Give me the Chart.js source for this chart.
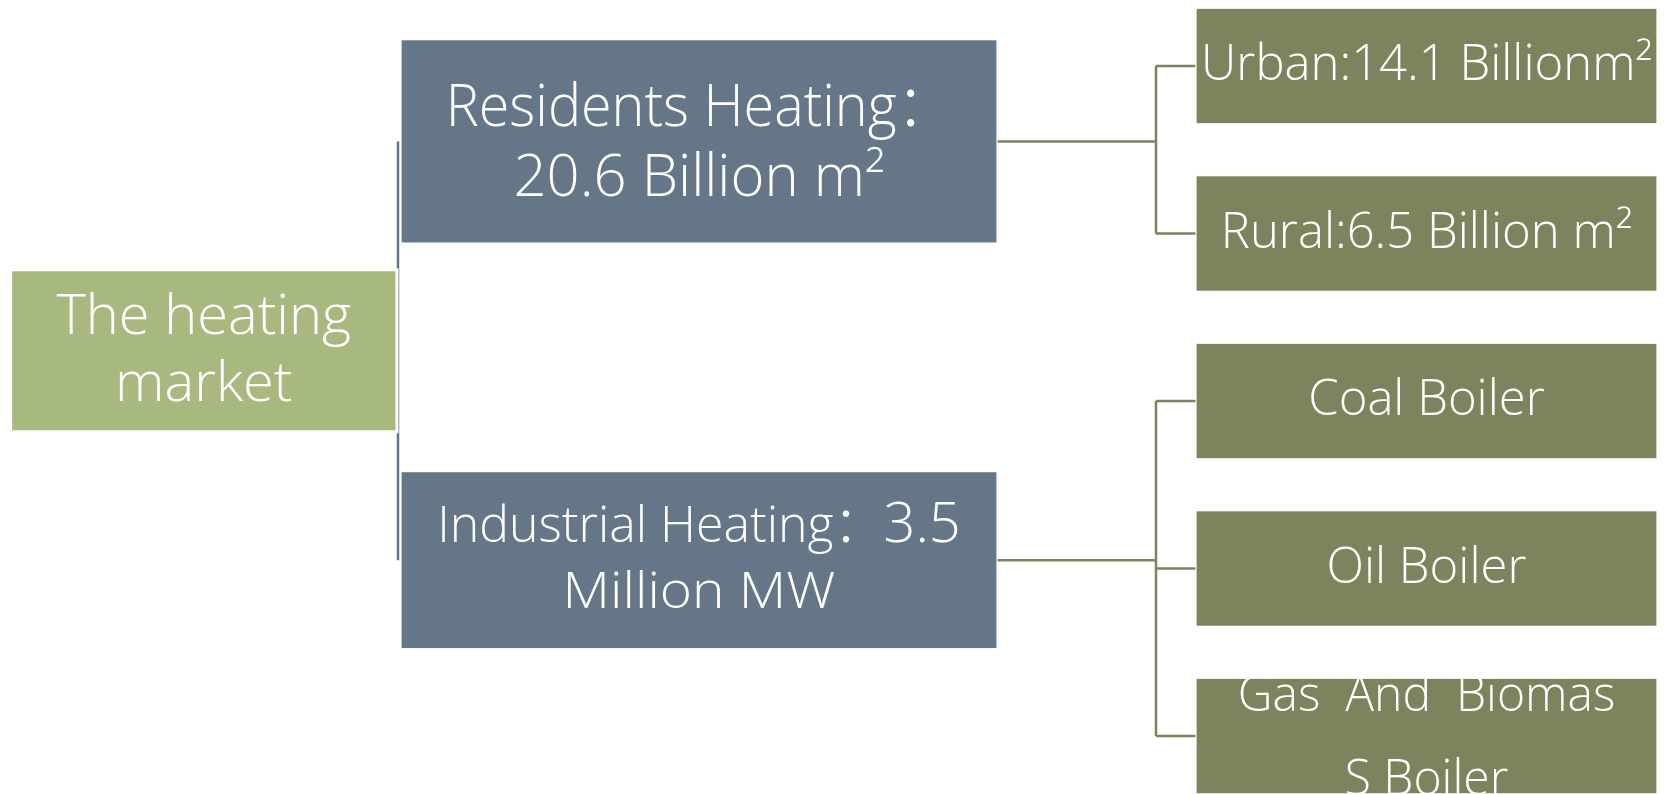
<!DOCTYPE html>
<html>
<head>
<meta charset="utf-8">
<script src="https://cdn.jsdelivr.net/npm/chart.js@4.4.1/dist/chart.umd.min.js"></script>
<style>
  html, body { margin: 0; padding: 0; background: #fff; overflow: hidden; }
  canvas { display: block; }
</style>
</head>
<body>
<canvas id="chart" width="1669" height="794"></canvas>
<script>
// tree data
const nodeNames = ['The heating market', 'Residents Heating', 'Industrial Heating', 'Urban', 'Rural', 'Coal Boiler', 'Oil Boiler', 'Gas And Biomass Boiler'];
const nodeParents = [-1, 0, 0, 1, 1, 2, 2, 2];
const nodeValues = [null, 20.6, 3.5, 14.1, 6.5, null, null, null];

// label text, wrapped as in the picture
const nodeLines = [
    ['The heating', 'market'],
    ['Residents Heating：', nodeValues[1] + ' Billion m²'],
    [['Industrial Heating：', String(nodeValues[2])], 'Million MW'],
    ['Urban:' + nodeValues[3] + ' Billionm²'],
    ['Rural:' + nodeValues[4] + ' Billion m²'],
    ['Coal Boiler'],
    ['Oil Boiler'],
    ['Gas  And  Biomas', 'S Boiler']
];

// layout / style
const COLS = [[10.6, 397], [401, 997], [1196, 1657]];
const BOX_H = [0.967, 1.214, 1.057, 0.69, 0.69, 0.69, 0.69, 0.69];
const MID_SHIFT = -0.05;
const ELBOW_X = 1156;
const FILLS = ['#a8b97f', '#667689', '#7b845c'];
const LINK_COLORS = ['#667689', '#7b845c'];
const FONT = "'Open Sans', 'Noto Sans CJK SC', sans-serif";
const TEXT_STYLE = [
    { size: 56, lh: 67, shift: 16.5, squash: [1, 1] },
    { size: 58, lh: 70, shift: 20, squash: [0.96, 1] },
    { size: 50, big: 56, lh: 66, shift: 14.5, squash: [1, 1.1] },
    { size: 49, lh: 84, shift: 14, squash: [1] },
    { size: 49, lh: 84, shift: 14, squash: [1] },
    { size: 49, lh: 84, shift: 14, squash: [1] },
    { size: 49, lh: 84, shift: 14, squash: [1] },
    { size: 49, lh: 84, shift: 17, squash: [0.98, 0.98] }
];

const depth = nodeNames.map((_, i) => {
    let d = 0;
    while (nodeParents[i] >= 0) { i = nodeParents[i]; d++; }
    return d;
});
const kids = nodeNames.map((_, i) => nodeParents.map((p, j) => p === i ? j : -1).filter(j => j >= 0));
const rows = [];
let nextLeaf = 0;
function place(i) {
    if (!kids[i].length) { rows[i] = nextLeaf++; return; }
    kids[i].forEach(place);
    const m = kids[i].reduce((s, k) => s + rows[k], 0) / kids[i].length;
    rows[i] = depth[i] === 1 ? m + MID_SHIFT : m;
}
place(0);

function drawLine(ctx, line, cx, by, st, sq) {
    const segs = Array.isArray(line) ? line : [line];
    const fonts = segs.map((s, k) => '300 ' + (k ? st.big : st.size) + 'px ' + FONT);
    const widths = segs.map((s, k) => { ctx.font = fonts[k]; return ctx.measureText(s).width; });
    const total = widths.reduce((a, b) => a + b, 0) * sq;
    ctx.save();
    ctx.translate(cx - total / 2, by);
    ctx.scale(sq, 1);
    let x = 0;
    segs.forEach((s, k) => {
        ctx.font = fonts[k];
        ctx.fillText(s, x, 0);
        x += widths[k];
    });
    ctx.restore();
}

const treePlugin = {
    id: 'tree',
    afterDatasetsDraw(chart) {
        const ctx = chart.ctx;
        const xs = chart.scales.x, ys = chart.scales.y;
        const box = i => {
            const c = COLS[depth[i]];
            const y0 = ys.getPixelForValue(rows[i] - BOX_H[i] / 2);
            const y1 = ys.getPixelForValue(rows[i] + BOX_H[i] / 2);
            return { l: xs.getPixelForValue(c[0]), r: xs.getPixelForValue(c[1]), t: y0, b: y1, cy: ys.getPixelForValue(rows[i]) };
        };
        ctx.save();
        ctx.lineWidth = 2.5;
        // links
        nodeNames.forEach((_, i) => {
            if (!kids[i].length) return;
            const p = box(i);
            const first = box(kids[i][0]), last = box(kids[i][kids[i].length - 1]);
            ctx.strokeStyle = LINK_COLORS[depth[i]];
            ctx.beginPath();
            if (depth[i] === 0) {
                ctx.moveTo(p.r + 1, first.cy);
                ctx.lineTo(p.r + 1, last.cy);
            } else {
                const ex = xs.getPixelForValue(ELBOW_X);
                ctx.moveTo(p.r, p.cy);
                ctx.lineTo(ex, p.cy);
                ctx.moveTo(ex, first.cy);
                ctx.lineTo(ex, last.cy);
                kids[i].forEach(k => {
                    const b = box(k);
                    ctx.moveTo(ex, b.cy);
                    ctx.lineTo(b.l, b.cy);
                });
            }
            ctx.stroke();
        });
        // boxes
        nodeNames.forEach((_, i) => {
            const b = box(i);
            ctx.fillStyle = FILLS[depth[i]];
            ctx.fillRect(b.l, b.t, b.r - b.l, b.b - b.t);
            ctx.strokeStyle = '#ffffff';
            ctx.lineWidth = depth[i] === 0 ? 3 : 1.2;
            ctx.strokeRect(b.l, b.t, b.r - b.l, b.b - b.t);
        });
        // labels
        ctx.fillStyle = '#ffffff';
        ctx.textAlign = 'left';
        ctx.textBaseline = 'alphabetic';
        nodeNames.forEach((_, i) => {
            const b = box(i), st = TEXT_STYLE[i], lines = nodeLines[i];
            const cx = (b.l + b.r) / 2;
            lines.forEach((ln, k) => {
                const by = b.cy + (k - (lines.length - 1) / 2) * st.lh + st.shift;
                drawLine(ctx, ln, cx, by, st, st.squash[k]);
            });
        });
        ctx.restore();
    }
};

new Chart(document.getElementById('chart'), {
    type: 'scatter',
    data: {
        datasets: [{
            label: 'nodes',
            data: nodeNames.map((_, i) => ({ x: (COLS[depth[i]][0] + COLS[depth[i]][1]) / 2, y: rows[i] })),
            pointRadius: 0
        }]
    },
    options: {
        responsive: false,
        animation: false,
        layout: { padding: 0 },
        plugins: { legend: { display: false }, tooltip: { enabled: false } },
        scales: {
            x: { type: 'linear', display: false, min: 0, max: 1669 },
            y: { type: 'linear', display: false, min: -0.394, max: 4.346, reverse: true }
        }
    },
    plugins: [treePlugin]
});
</script>
</body>
</html>
